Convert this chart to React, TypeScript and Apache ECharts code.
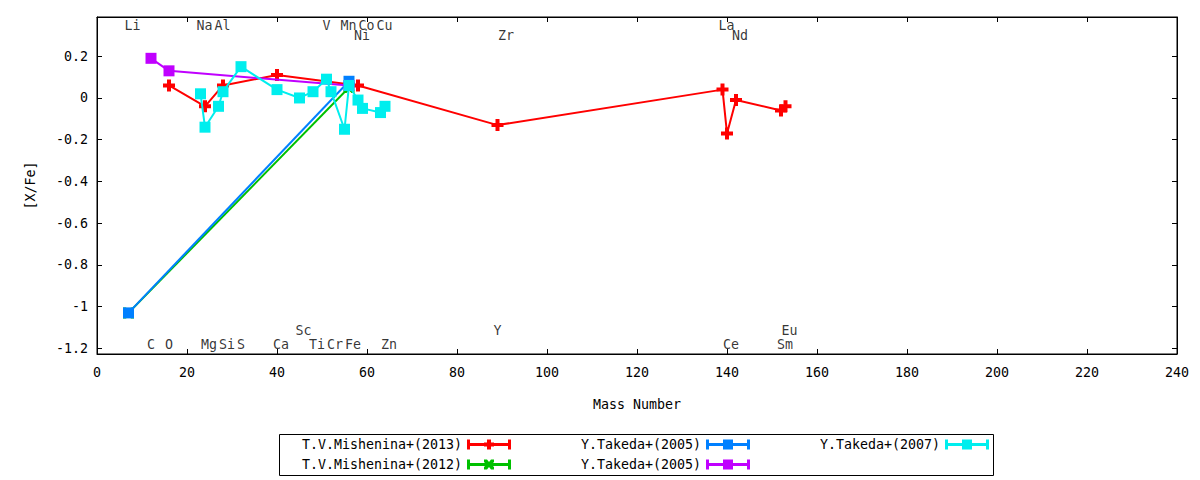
import React, { useEffect, useRef } from 'react';
import * as echarts from 'echarts';

const FONT = 'DejaVu Sans Mono';
const FS = 13.3;

// Series data (mass number, [X/Fe])
const mish2013Mass = [16, 24, 28, 40, 58, 89, 139, 140, 142, 152, 153];
const mish2013Val = [0.06, -0.04, 0.06, 0.11, 0.06, -0.13, 0.04, -0.17, -0.01, -0.06, -0.04];

const mish2012Mass = [7, 56];
const mish2012Val = [-1.03, 0.05];

const takeda2005aMass = [7, 56];
const takeda2005aVal = [-1.03, 0.08];

const takeda2005bMass = [12, 16, 56];
const takeda2005bVal = [0.19, 0.13, 0.06];

const takeda2007Mass = [23, 24, 27, 28, 32, 40, 45, 48, 51, 52, 55, 56, 58, 59, 63, 64];
const takeda2007Val = [0.02, -0.14, -0.04, 0.03, 0.15, 0.04, 0.0, 0.03, 0.09, 0.03, -0.15, 0.06, -0.01, -0.05, -0.07, -0.04];

// Element labels
const topRow1Names = ['Li', 'Na', 'Al', 'V', 'Mn', 'Co', 'Cu', 'La'];
const topRow1Mass = [7, 23, 27, 51, 55, 59, 63, 139];
const topRow2Names = ['Ni', 'Zr', 'Nd'];
const topRow2Mass = [58, 90, 142];
const botRow1Names = ['C', 'O', 'Mg', 'Si', 'S', 'Ca', 'Ti', 'Cr', 'Fe', 'Zn', 'Ce', 'Sm'];
const botRow1Mass = [12, 16, 24, 28, 32, 40, 48, 52, 56, 64, 140, 152];
const botRow2Names = ['Sc', 'Y', 'Eu'];
const botRow2Mass = [45, 89, 153];
const rowLevels = [0.345, 0.297, -1.18, -1.116];

// Axes
const xMin = 0;
const xMax = 240;
const xStep = 20;
const yMin = -1.227;
const yMax = 0.388;
const yTicks = [-1.2, -1, -0.8, -0.6, -0.4, -0.2, 0, 0.2];

const seriesNames = [
  'T.V.Mishenina+(2013)',
  'T.V.Mishenina+(2012)',
  'Y.Takeda+(2005)',
  'Y.Takeda+(2005)',
  'Y.Takeda+(2007)',
];
const seriesColors = ['#ff0000', '#00c000', '#0080ff', '#c000ff', '#00eeee'];

const PLUS = 'path://M4 0h4v12h-4z M0 4h12v4h-12z';
const CROSS = 'path://M0 0h3l2.5 2.5l2.5-2.5h3v3l-2.5 2.5l2.5 2.5v3h-3l-2.5-2.5l-2.5 2.5h-3v-3l2.5-2.5l-2.5-2.5z';

const ICON_BASE = 'M0 0h3v10h-3z M41 0h3v10h-3z M0 3.5h44v3h-44z';
const ICON_SQ = ' M17 0h10v10h-10z';
const ICON_PLUS = ' M20 0h4v10h-4z M17 3h10v4h-10z';
const ICON_X = ' M17 0h3l2 2.5l2-2.5h3v2.5l-2.5 2.5l2.5 2.5v2.5h-3l-2-2.5l-2 2.5h-3v-2.5l2.5-2.5l-2.5-2.5z';

const pairs = (xs: number[], ys: number[]) => xs.map((x, i) => [x, ys[i]]);
const labelData = (names: string[], mass: number[], level: number) =>
  names.map((n, i) => ({ name: n, value: [mass[i], level] }));

export default function App() {
  const ref = useRef<HTMLDivElement>(null);

  useEffect(() => {
    if (!ref.current) return;
    const chart = echarts.init(ref.current, undefined, { renderer: 'svg' });

    const txt = { fontFamily: FONT, fontSize: FS, color: '#000' };
    const axLine = { show: true, onZero: false, lineStyle: { color: '#000', width: 1 } };

    const lineSeries = (idx: number, data: number[][], symbol: string, size: number) => ({
      type: 'line',
      name: seriesNames[idx],
      data,
      symbol,
      symbolSize: size,
      showSymbol: true,
      lineStyle: { color: seriesColors[idx], width: 2 },
      itemStyle: { color: seriesColors[idx] },
      silent: true,
      z: 2 + idx,
    });

    const legendDef = (idx: number, right: number, top: number, mark: string) => ({
      show: true,
      orient: 'horizontal',
      right,
      top,
      padding: 0,
      align: 'right',
      itemWidth: 44,
      itemHeight: 10,
      selectedMode: false,
      textStyle: txt,
      data: [
        {
          name: seriesNames[idx],
          icon: 'path://' + ICON_BASE + mark,
          itemStyle: { color: seriesColors[idx] },
        },
      ],
    });

    const allLabels = [
      ...labelData(topRow1Names, topRow1Mass, rowLevels[0]),
      ...labelData(topRow2Names, topRow2Mass, rowLevels[1]),
      ...labelData(botRow1Names, botRow1Mass, rowLevels[2]),
      ...labelData(botRow2Names, botRow2Mass, rowLevels[3]),
    ];

    const option: any = {
      animation: false,
      backgroundColor: '#fff',
      grid: {
        left: 97,
        right: 23,
        top: 17,
        bottom: 126,
        show: true,
        borderColor: '#000',
        borderWidth: 1,
        backgroundColor: 'transparent',
      },
      xAxis: [
        {
          type: 'value',
          min: xMin,
          max: xMax,
          interval: xStep,
          position: 'bottom',
          name: 'Mass Number',
          nameLocation: 'middle',
          nameGap: 44,
          nameTextStyle: txt,
          axisLine: axLine,
          axisTick: { show: true, inside: true, length: 5, lineStyle: { color: '#000' } },
          axisLabel: { ...txt, margin: 12 },
          splitLine: { show: false },
        },
        {
          type: 'value',
          min: xMin,
          max: xMax,
          interval: xStep,
          position: 'top',
          axisLine: axLine,
          axisTick: { show: true, inside: true, length: 5, lineStyle: { color: '#000' } },
          axisLabel: { show: false },
          splitLine: { show: false },
        },
      ],
      yAxis: [
        {
          type: 'value',
          min: yMin,
          max: yMax,
          position: 'left',
          name: '[X/Fe]',
          nameLocation: 'middle',
          nameGap: 60,
          nameTextStyle: txt,
          axisLine: axLine,
          axisTick: { show: true, inside: true, length: 5, lineStyle: { color: '#000' }, customValues: yTicks },
          axisLabel: { ...txt, margin: 9, customValues: yTicks },
          splitLine: { show: false },
        },
        {
          type: 'value',
          min: yMin,
          max: yMax,
          position: 'right',
          axisLine: axLine,
          axisTick: { show: true, inside: true, length: 5, lineStyle: { color: '#000' }, customValues: yTicks },
          axisLabel: { show: false },
          splitLine: { show: false },
        },
      ],
      legend: [
        legendDef(0, 689, 438, ICON_PLUS),
        legendDef(1, 689, 458, ICON_X),
        legendDef(2, 450, 438, ICON_SQ),
        legendDef(3, 450, 458, ICON_SQ),
        legendDef(4, 211, 438, ICON_SQ),
      ],
      graphic: [
        {
          type: 'rect',
          shape: { x: 279.5, y: 434.5, width: 714, height: 41 },
          style: { fill: 'none', stroke: '#000', lineWidth: 1 },
          silent: true,
        },
      ],
      series: [
        lineSeries(0, pairs(mish2013Mass, mish2013Val), PLUS, 12),
        lineSeries(1, pairs(mish2012Mass, mish2012Val), CROSS, 11),
        lineSeries(2, pairs(takeda2005aMass, takeda2005aVal), 'rect', 11),
        lineSeries(3, pairs(takeda2005bMass, takeda2005bVal), 'rect', 11),
        lineSeries(4, pairs(takeda2007Mass, takeda2007Val), 'rect', 11),
        {
          type: 'scatter',
          name: 'elements',
          data: allLabels,
          symbolSize: 0,
          silent: true,
          z: 10,
          label: {
            show: true,
            position: 'inside',
            align: 'left',
            verticalAlign: 'middle',
            offset: [-4, 0],
            formatter: '{b}',
            ...txt,
          },
        },
      ],
    };

    chart.setOption(option);
    return () => chart.dispose();
  }, []);

  return (
    <div
      ref={ref}
      style={{ position: 'absolute', left: 0, top: 0, width: 1200, height: 480 }}
    />
  );
}
